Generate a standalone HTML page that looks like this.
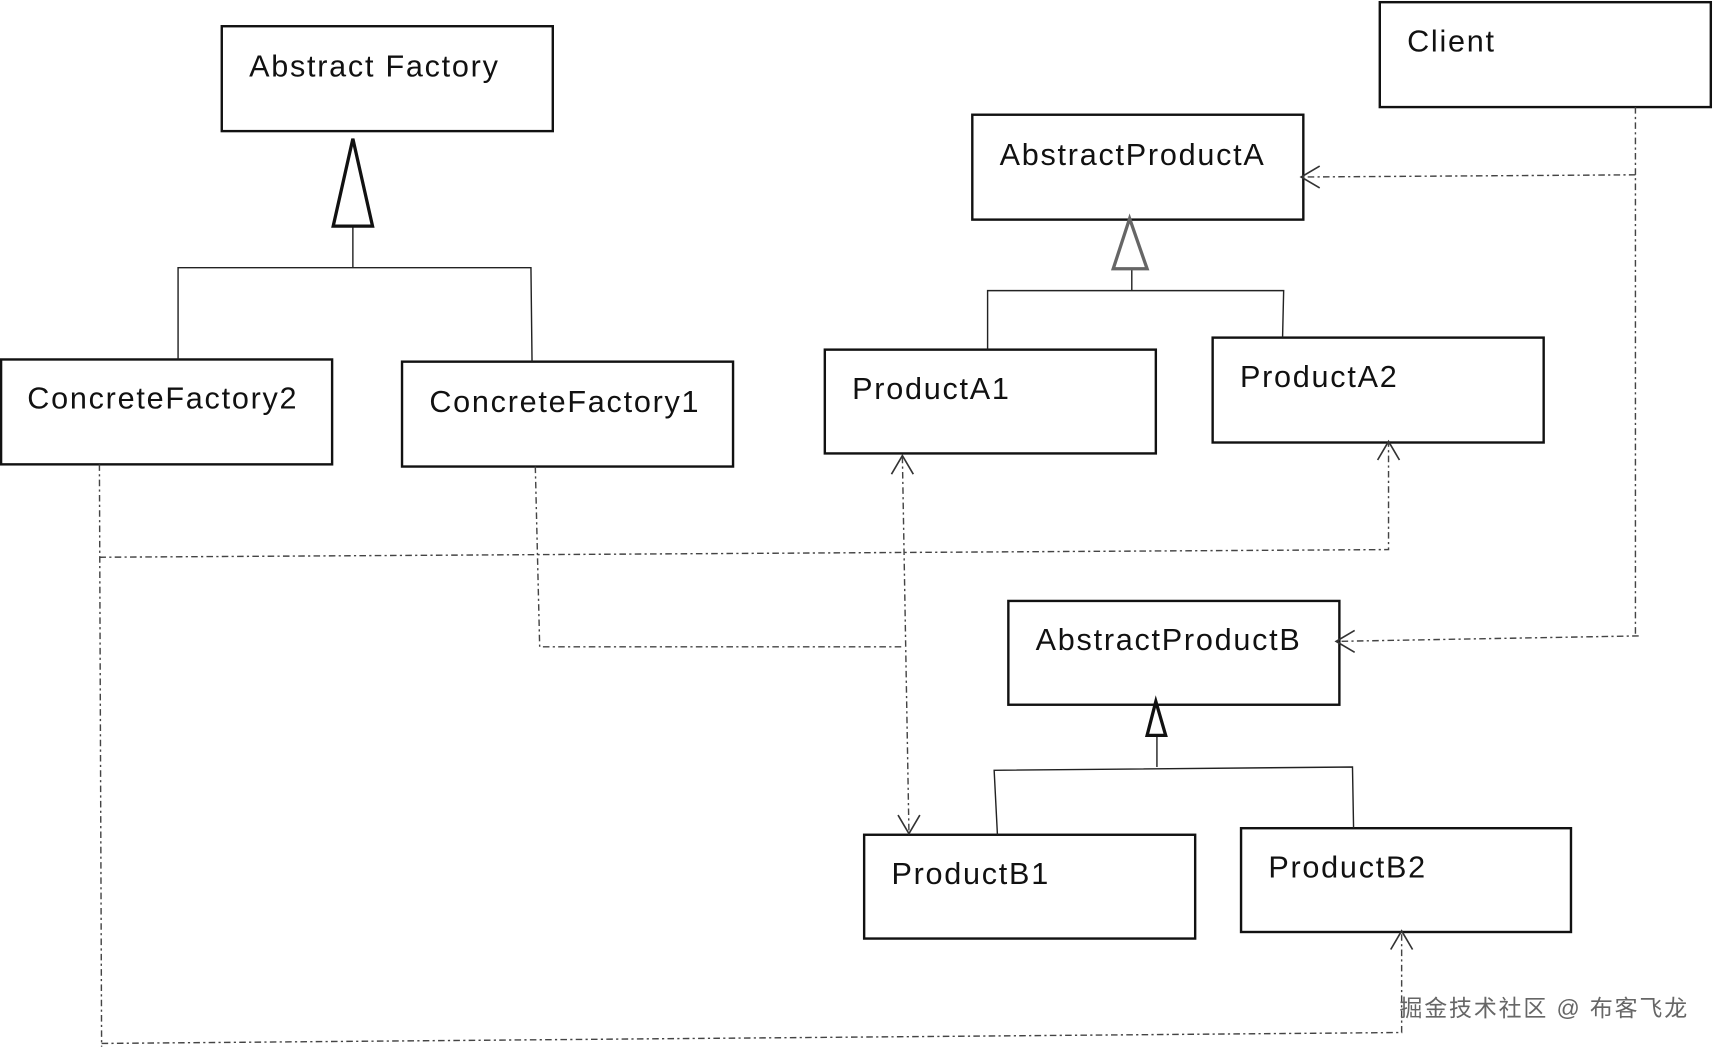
<!DOCTYPE html>
<html><head><meta charset="utf-8"><style>
html,body{margin:0;padding:0;background:#fff;}
svg{display:block;}
text{font-family:"Liberation Sans","DejaVu Sans",sans-serif;font-size:28px;fill:#111;letter-spacing:1.6px;}
</style></head><body>
<svg width="1713" height="1050" viewBox="0 0 1568 961" preserveAspectRatio="none">
<g fill="none" stroke="#111" stroke-width="2.2">
<rect x="203" y="24" width="303" height="96"/>
<rect x="1263" y="2" width="303" height="96"/>
<rect x="890" y="105" width="303" height="96"/>
<rect x="1" y="329" width="303" height="96"/>
<rect x="368" y="331" width="303" height="96"/>
<rect x="755" y="320" width="303" height="95"/>
<rect x="1110" y="309" width="303" height="96"/>
<rect x="923" y="550" width="303" height="95"/>
<rect x="791" y="764" width="303" height="95"/>
<rect x="1136" y="758" width="302" height="95"/>
</g>
<g fill="none" stroke="#222" stroke-width="1.3">
<polyline points="323,207 323,245"/><polyline points="163,329 163,245 486,245 487,331"/>
<polyline points="1036,246 1036,266"/><polyline points="904,320 904,266 1175,266 1174,309"/>
<polyline points="1059,673 1059,702"/><polyline points="913,764 910,705 1238,702 1239,758"/>
</g>
<polygon points="323,127 305,207 341,207" fill="#fff" stroke="#111" stroke-width="3"/>
<polygon points="1034,200 1019,246 1050,246" fill="#fff" stroke="#666" stroke-width="3"/>
<polygon points="1058,642 1050,673 1067,673" fill="#fff" stroke="#111" stroke-width="3"/>
<g fill="none" stroke="#444" stroke-width="1.3" stroke-dasharray="6,3,2,3">
<polyline points="1497,98 1497,582"/>
<polyline points="1497,160 1192,162"/>
<polyline points="1500,582 1224,587"/>
<polyline points="91,425 93,958"/>
<polyline points="91,510 1271,503 1271,405"/>
<polyline points="93,955 1283,945 1283,853"/>
<polyline points="490,427 494,592 828,592"/>
<polyline points="826,418 832,762"/>
</g>
<g fill="none" stroke="#333" stroke-width="1.5">
<polyline points="1208,152 1191,162 1208,172"/>
<polyline points="1240,577 1223,587 1240,597"/>
<polyline points="1261,421 1271,404 1281,421"/>
<polyline points="1273,869 1283,852 1293,869"/>
<polyline points="816,434 826,417 836,434"/>
<polyline points="822,746 832,763 842,746"/>
</g>
<text x="228" y="70">Abstract Factory</text>
<text x="1288" y="47">Client</text>
<text x="915" y="151">AbstractProductA</text>
<text x="25" y="374">ConcreteFactory2</text>
<text x="393" y="377">ConcreteFactory1</text>
<text x="780" y="365">ProductA1</text>
<text x="1135" y="354">ProductA2</text>
<text x="948" y="595">AbstractProductB</text>
<text x="816" y="809">ProductB1</text>
<text x="1161" y="803">ProductB2</text>
<text x="1281" y="930" style="font-family:'Liberation Sans','Noto Sans CJK SC',sans-serif;font-size:21px;fill:#666;letter-spacing:1.7px">掘金技术社区 @ 布客飞龙</text>
</svg>
</body></html>
